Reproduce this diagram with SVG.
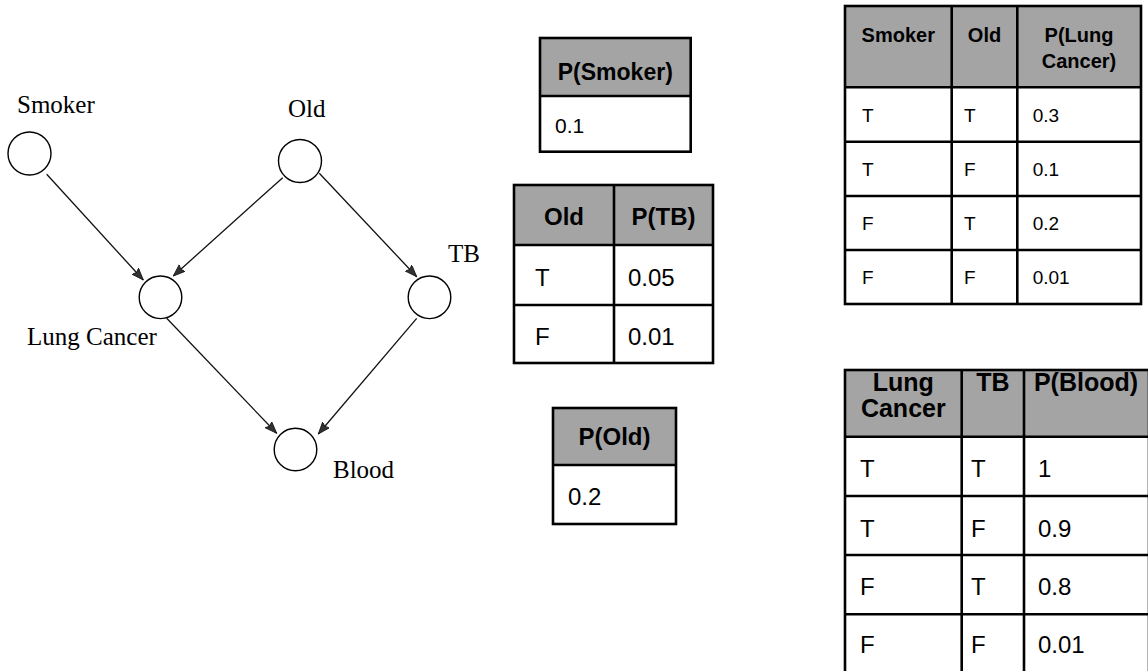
<svg xmlns="http://www.w3.org/2000/svg" width="1148" height="671" viewBox="0 0 1148 671">
  <style>
    .node { fill: #ffffff; stroke: #000000; stroke-width: 1.4; }
    .edge { fill: none; stroke: #111111; stroke-width: 1.3; marker-end: url(#arrow); }
    .lbl { font-family: "Liberation Serif", "Times New Roman", serif; font-size: 25px; fill: #000000; }
    .hd { fill: #a4a4a4; }
    .bd { fill: #ffffff; }
    .grid { fill: none; stroke: #000000; stroke-width: 2.6; }
    .th { font-family: "Liberation Sans", Arial, sans-serif; font-weight: bold; fill: #000000; text-anchor: middle; }
    .td { font-family: "Liberation Sans", Arial, sans-serif; fill: #000000; }
  </style>
  <defs>
    <marker id="arrow" markerUnits="userSpaceOnUse" markerWidth="14" markerHeight="10" refX="12" refY="4.5" orient="auto">
      <path d="M0,0 L12,4.5 L0,9 L2,4.5 Z" fill="#333333" stroke="#111111" stroke-width="0.8"/>
    </marker>
  </defs>

  <rect width="1148" height="671" fill="#ffffff"/>

  <!-- network edges -->
  <g id="connectors">
    <line class="edge" x1="46.7" y1="174.3" x2="143.3" y2="280"/>
    <line class="edge" x1="282.7" y1="177.7" x2="173.3" y2="276"/>
    <line class="edge" x1="319.3" y1="173.3" x2="416.7" y2="276.7"/>
    <line class="edge" x1="166.7" y1="318.3" x2="276.7" y2="433.3"/>
    <line class="edge" x1="416.7" y1="318.3" x2="318.3" y2="434"/>
  </g>

  <!-- network nodes -->
  <g id="node-smoker">
    <circle class="node" cx="29.5" cy="153.5" r="21.5"/>
    <text class="lbl" x="17" y="113">Smoker</text>
  </g>
  <g id="node-old">
    <circle class="node" cx="300" cy="161" r="21.5"/>
    <text class="lbl" x="288" y="117">Old</text>
  </g>
  <g id="node-lung-cancer">
    <circle class="node" cx="160.5" cy="297.3" r="21.3"/>
    <text class="lbl" x="27" y="345">Lung Cancer</text>
  </g>
  <g id="node-tb">
    <circle class="node" cx="429.5" cy="297.3" r="21.3"/>
    <text class="lbl" x="448" y="262">TB</text>
  </g>
  <g id="node-blood">
    <circle class="node" cx="295.5" cy="449.5" r="21.3"/>
    <text class="lbl" x="333" y="478">Blood</text>
  </g>

  <!-- P(Smoker) -->
  <g id="table-smoker">
    <rect class="hd" x="540" y="38" width="150.7" height="58"/>
    <rect class="bd" x="540" y="96" width="150.7" height="55.7"/>
    <rect class="grid" x="540" y="38" width="150.7" height="113.7"/>
    <line class="grid" x1="540" y1="96" x2="690.7" y2="96"/>
    <text class="th" x="615.3" y="80" font-size="23">P(Smoker)</text>
    <text class="td" x="555" y="133" font-size="21">0.1</text>
  </g>

  <!-- P(TB | Old) -->
  <g id="table-tb">
    <rect class="hd" x="514" y="185" width="199" height="60"/>
    <rect class="bd" x="514" y="245" width="199" height="118"/>
    <rect class="grid" x="514" y="185" width="199" height="178"/>
    <line class="grid" x1="514" y1="245" x2="713" y2="245"/>
    <line class="grid" x1="514" y1="305" x2="713" y2="305"/>
    <line class="grid" x1="614" y1="185" x2="614" y2="363"/>
    <text class="th" x="564" y="225" font-size="24">Old</text>
    <text class="th" x="663.5" y="225" font-size="24">P(TB)</text>
    <text class="td" x="535" y="286" font-size="24">T</text>
    <text class="td" x="628" y="286" font-size="24">0.05</text>
    <text class="td" x="535" y="345" font-size="24">F</text>
    <text class="td" x="628" y="345" font-size="24">0.01</text>
  </g>

  <!-- P(Old) -->
  <g id="table-old">
    <rect class="hd" x="553" y="408" width="123" height="57"/>
    <rect class="bd" x="553" y="465" width="123" height="59"/>
    <rect class="grid" x="553" y="408" width="123" height="116"/>
    <line class="grid" x1="553" y1="465" x2="676" y2="465"/>
    <text class="th" x="614.5" y="445" font-size="24">P(Old)</text>
    <text class="td" x="568" y="505" font-size="24">0.2</text>
  </g>

  <!-- P(Lung Cancer | Smoker, Old) -->
  <g id="table-lung-cancer">
    <rect class="hd" x="845" y="6" width="296" height="81.3"/>
    <rect class="bd" x="845" y="87.3" width="296" height="216.7"/>
    <rect class="grid" x="845" y="6" width="296" height="298"/>
    <line class="grid" x1="845" y1="87.3" x2="1141" y2="87.3"/>
    <line class="grid" x1="845" y1="141.7" x2="1141" y2="141.7"/>
    <line class="grid" x1="845" y1="196" x2="1141" y2="196"/>
    <line class="grid" x1="845" y1="250" x2="1141" y2="250"/>
    <line class="grid" x1="951.7" y1="6" x2="951.7" y2="304"/>
    <line class="grid" x1="1017.3" y1="6" x2="1017.3" y2="304"/>
    <text class="th" x="898.3" y="41.7" font-size="20">Smoker</text>
    <text class="th" x="984.5" y="41.7" font-size="20">Old</text>
    <text class="th" x="1079" y="41.7" font-size="20">P(Lung</text>
    <text class="th" x="1079" y="68.3" font-size="20">Cancer)</text>
    <text class="td" x="862" y="121.7" font-size="19">T</text>
    <text class="td" x="964" y="121.7" font-size="19">T</text>
    <text class="td" x="1032.7" y="121.7" font-size="19">0.3</text>
    <text class="td" x="862" y="176" font-size="19">T</text>
    <text class="td" x="964" y="176" font-size="19">F</text>
    <text class="td" x="1032.7" y="176" font-size="19">0.1</text>
    <text class="td" x="862" y="230" font-size="19">F</text>
    <text class="td" x="964" y="230" font-size="19">T</text>
    <text class="td" x="1032.7" y="230" font-size="19">0.2</text>
    <text class="td" x="862" y="284" font-size="19">F</text>
    <text class="td" x="964" y="284" font-size="19">F</text>
    <text class="td" x="1032.7" y="284" font-size="19">0.01</text>
  </g>

  <!-- P(Blood | Lung Cancer, TB) -->
  <g id="table-blood">
    <rect class="hd" x="845" y="370" width="304" height="66.7"/>
    <rect class="bd" x="845" y="436.7" width="304" height="236.3"/>
    <rect class="grid" x="845" y="370" width="304" height="303"/>
    <line class="grid" x1="845" y1="436.7" x2="1149" y2="436.7"/>
    <line class="grid" x1="845" y1="496" x2="1149" y2="496"/>
    <line class="grid" x1="845" y1="555" x2="1149" y2="555"/>
    <line class="grid" x1="845" y1="614.3" x2="1149" y2="614.3"/>
    <line class="grid" x1="961.7" y1="370" x2="961.7" y2="673"/>
    <line class="grid" x1="1024" y1="370" x2="1024" y2="673"/>
    <text class="th" x="903.3" y="391" font-size="25">Lung</text>
    <text class="th" x="903.3" y="417" font-size="25">Cancer</text>
    <text class="th" x="992.8" y="391" font-size="25">TB</text>
    <text class="th" x="1086" y="391" font-size="25">P(Blood)</text>
    <text class="td" x="860" y="477" font-size="24">T</text>
    <text class="td" x="971" y="477" font-size="24">T</text>
    <text class="td" x="1038" y="477" font-size="24">1</text>
    <text class="td" x="860" y="537" font-size="24">T</text>
    <text class="td" x="971" y="537" font-size="24">F</text>
    <text class="td" x="1038" y="537" font-size="24">0.9</text>
    <text class="td" x="860" y="595" font-size="24">F</text>
    <text class="td" x="971" y="595" font-size="24">T</text>
    <text class="td" x="1038" y="595" font-size="24">0.8</text>
    <text class="td" x="860" y="653" font-size="24">F</text>
    <text class="td" x="971" y="653" font-size="24">F</text>
    <text class="td" x="1038" y="653" font-size="24">0.01</text>
  </g>
</svg>
